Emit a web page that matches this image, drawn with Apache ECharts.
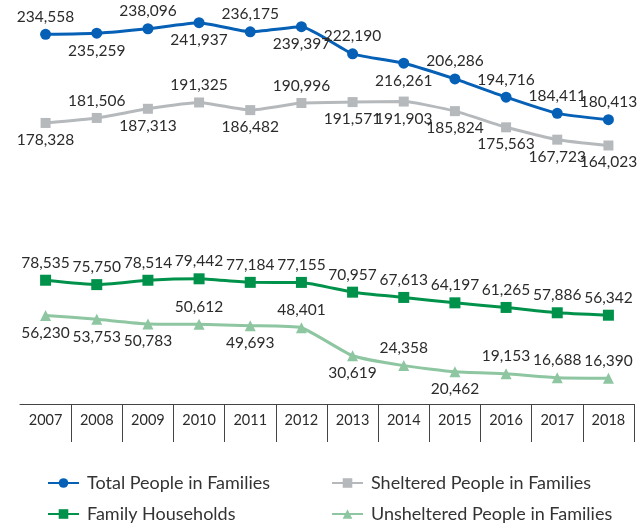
<!DOCTYPE html>
<html>
<head>
<meta charset="utf-8">
<script src="https://cdn.jsdelivr.net/npm/echarts@6/dist/echarts.min.js"></script>
<style>
  html, body { margin: 0; padding: 0; background: #fff; }
  #chart { width: 637px; height: 525px; }
</style>
</head>
<body>
<div id="chart"></div>
<script>
// 数据
const years = ['2007', '2008', '2009', '2010', '2011', '2012', '2013', '2014', '2015', '2016', '2017', '2018']
const totalPeople = [234558, 235259, 238096, 241937, 236175, 239397, 222190, 216261, 206286, 194716, 184411, 180413]
const shelteredPeople = [178328, 181506, 187313, 191325, 186482, 190996, 191571, 191903, 185824, 175563, 167723, 164023]
const familyHouseholds = [78535, 75750, 78514, 79442, 77184, 77155, 70957, 67613, 64197, 61265, 57886, 56342]
const unshelteredPeople = [56230, 53753, 50783, 50612, 49693, 48401, 30619, 24358, 20462, 19153, 16688, 16390]

// 标签位置 (t = 上, b = 下)
const totalPos = 'tbtbtbtbtttt'
const shelteredPos = 'btbtbtbbbbbb'
const familyPos = 'tttttttttttt'
const unshelteredPos = 'bbbtbtbtbttt'

const fmt = v => v.toLocaleString('en-US')

const withLabels = (vals, pos) =>
  vals.map((v, i) => ({
    value: v,
    label: { position: pos[i] === 't' ? 'top' : 'bottom' }
  }))

const makeSeries = (name, vals, pos, color, symbol, size) => ({
  name,
  type: 'line',
  data: withLabels(vals, pos),
  symbol,
  symbolSize: size,
  color,
  lineStyle: { width: 3, color },
  itemStyle: { color },
  smooth: 0.15,
  label: {
    show: true,
    distance: 4,
    color: '#2b2b2b',
    fontSize: 15.5,
    fontFamily: 'Lato',
    formatter: ({ value }) => fmt(value)
  },
  emphasis: { disabled: true },
  z: 3
})

const myChart = echarts.init(document.getElementById('chart'))

const legendBase = {
  orient: 'vertical',
  top: 474,
  height: 60,
  padding: 0,
  itemGap: 13,
  itemWidth: 31,
  itemHeight: 12,
  textStyle: {
    color: '#333',
    fontSize: 18,
    lineHeight: 18,
    fontFamily: 'Lato',
    padding: [0, 0, 0, 3]
  }
}

const option = {
  animation: false,
  grid: { left: 20, right: 3, top: 10, bottom: 121 },
  legend: [
    {
      ...legendBase,
      data: ['Total People in Families', 'Family Households'],
      left: 47
    },
    {
      ...legendBase,
      data: ['Sheltered People in Families', 'Unsheltered People in Families'],
      left: 331
    }
  ],
  xAxis: {
    type: 'category',
    data: years,
    boundaryGap: true,
    axisLine: { lineStyle: { color: '#444', width: 1 } },
    axisTick: {
      show: true,
      length: 38,
      interval: i => i !== 0,
      lineStyle: { color: '#444', width: 1 }
    },
    axisLabel: {
      color: '#2b2b2b',
      fontSize: 14.5,
      fontFamily: 'Lato',
      margin: 9
    }
  },
  yAxis: {
    type: 'value',
    min: 0,
    max: 250000,
    show: false,
    splitLine: { show: false }
  },
  series: [
    makeSeries('Total People in Families', totalPeople, totalPos, '#0560b6', 'circle', 11),
    makeSeries('Sheltered People in Families', shelteredPeople, shelteredPos, '#b6b9bc', 'rect', 10),
    makeSeries('Family Households', familyHouseholds, familyPos, '#00924a', 'rect', 11),
    makeSeries('Unsheltered People in Families', unshelteredPeople, unshelteredPos, '#8dc6a1', 'triangle', 11)
  ]
}

myChart.setOption(option)
</script>
</body>
</html>
